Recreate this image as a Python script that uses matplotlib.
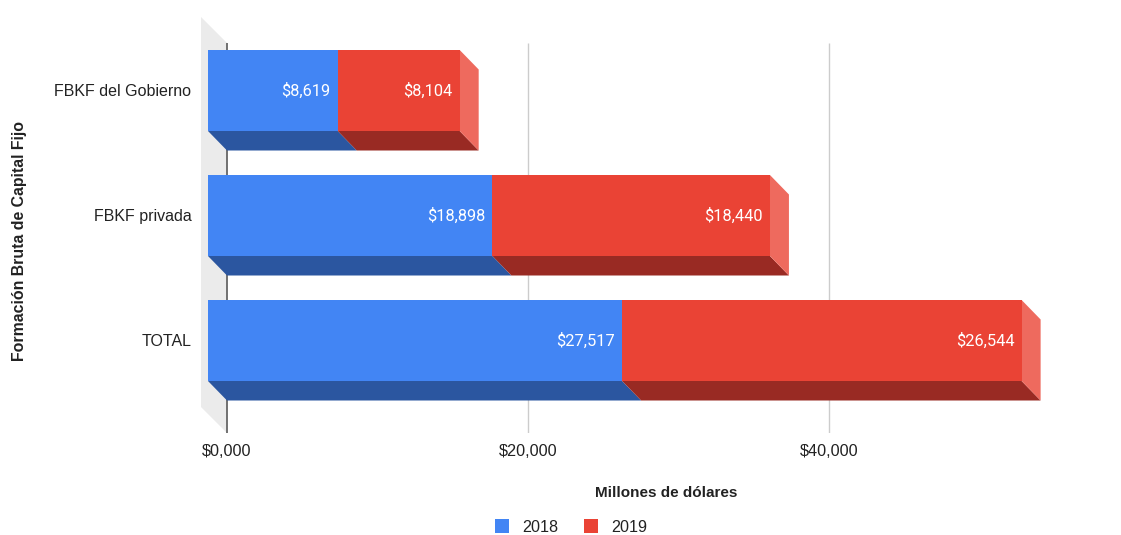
import matplotlib
matplotlib.use("Agg")
import matplotlib.pyplot as plt
from matplotlib.patches import Polygon, Rectangle

categorias = ["FBKF del Gobierno", "FBKF privada", "TOTAL"]
anios = ["2018", "2019"]
v2018 = [8619, 18898, 27517]
v2019 = [8104, 18440, 26544]
xticks = [0, 20000, 40000]
xticklabels = ["$0,000", "$20,000", "$40,000"]

azul, azul_osc = "#4285F4", "#2B56A0"
rojo, rojo_osc, rojo_lado = "#EA4335", "#992A23", "#EE6A5E"

W, H = 1121, 535
fig = plt.figure(figsize=(W / 100, H / 100), dpi=100)

# mapping used for the layout (pixels -> data)
s = 0.01505           # px per unit on x
x0px = 227            # pixel of value 0
c0px, step = 90.5, 125.0
xmin, xmax = -2000, 56000
ytop_px, ybot_px = 10, 433
left = (x0px + xmin * s) / W
width = (xmax - xmin) * s / W
ax = fig.add_axes([left, 1 - ybot_px / H, width, (ybot_px - ytop_px) / H])
ax.set_xlim(xmin, xmax)
ax.set_ylim((ybot_px - c0px) / step, (ytop_px - c0px) / step)

D = 19 / s            # depth in x (data units)
dy = 19.5 / step      # depth in y (category units)
h = 81 / step         # bar thickness

# grey wall on the left
wd = 26 / s
ax.add_patch(Polygon([(-wd, -0.588), (0, -0.38), (0, 2.74), (-wd, 2.532)],
                     closed=True, fc="#EBEBEB", ec="none", zorder=0))
ax.vlines([20000, 40000], -0.38, 2.74, color="#CCCCCC", lw=1, zorder=1)
ax.vlines(0, -0.38, 2.74, color="#666666", lw=1.3, zorder=1)

for i in range(len(categorias)):
    top, bot = i - h / 2, i + h / 2
    a, b = v2018[i], v2018[i] + v2019[i]
    for (start, end, front, dark) in [(0, a, azul, azul_osc), (a, b, rojo, rojo_osc)]:
        ax.add_patch(Polygon([(start - D, bot), (end - D, bot), (end, bot + dy), (start, bot + dy)],
                             closed=True, fc=dark, ec="none", zorder=2))
        ax.add_patch(Rectangle((start - D, top), end - start, h, fc=front, ec="none", zorder=3))
    ax.add_patch(Polygon([(b - D, top), (b, top + dy), (b, bot + dy), (b - D, bot)],
                         closed=True, fc=rojo_lado, ec="none", zorder=2))
    ax.text(a - D - 7 / s, i, "${:,}".format(v2018[i]), color="white", ha="right", va="center",
            fontsize=11.8, family="Roboto", zorder=4)
    ax.text(b - D - 7 / s, i, "${:,}".format(v2019[i]), color="white", ha="right", va="center",
            fontsize=11.8, family="Roboto", zorder=4)

for sp in ax.spines.values():
    sp.set_visible(False)
ax.set_xticks(xticks)
ax.set_xticklabels(xticklabels, fontsize=11.7, family="Liberation Sans", color="#222222")
ax.set_yticks(range(len(categorias)))
ax.set_yticklabels(categorias, fontsize=11.5, family="Liberation Sans", color="#222222")
ax.tick_params(length=0)
ax.tick_params(axis="x", pad=8)
ax.tick_params(axis="y", pad=4)

fig.text(20 / W, 1 - 241 / H, "Formación Bruta de Capital Fijo", rotation=90, ha="center",
         va="center", fontsize=11.4, fontweight="bold", family="Liberation Sans", color="#222222")
fig.text(666 / W, 1 - 493 / H, "Millones de dólares", ha="center", va="center",
         fontsize=11, fontweight="bold", family="Liberation Sans", color="#222222")

handles = [Rectangle((0, 0), 1, 1, fc=azul), Rectangle((0, 0), 1, 1, fc=rojo)]
leg = fig.legend(handles, anios, loc="center", bbox_to_anchor=(571 / W, 1 - 527 / H), ncol=2,
                 frameon=False, handlelength=0.9, handleheight=0.9, handletextpad=0.8,
                 columnspacing=1.6, prop={"family": "Liberation Sans", "size": 11.6})
for t in leg.get_texts():
    t.set_color("#222222")

fig.savefig("out.png", dpi=100)
